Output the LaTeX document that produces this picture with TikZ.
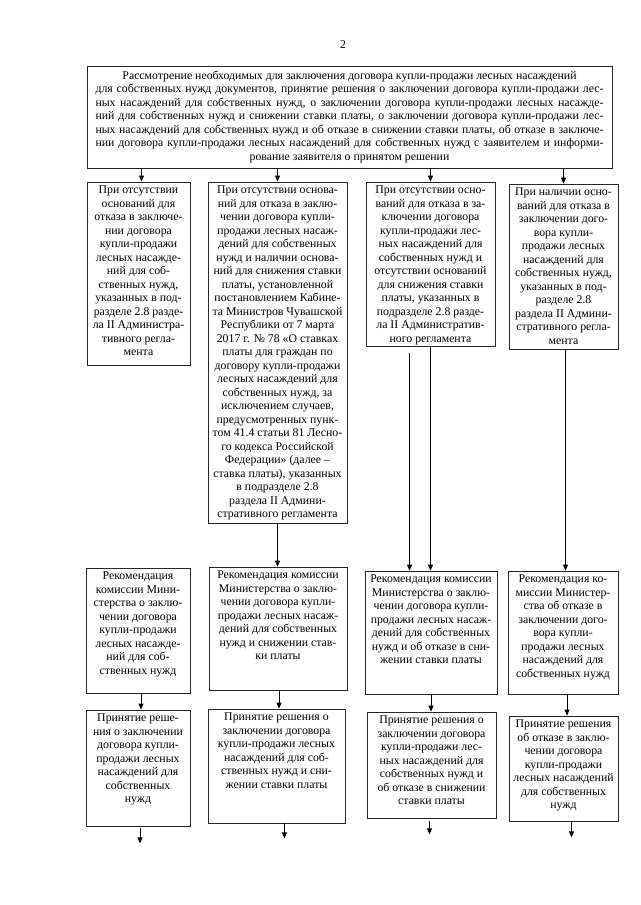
\documentclass[tikz,border=0pt]{standalone}
\usepackage{fontspec}
\setmainfont{Liberation Serif}
\usetikzlibrary{arrows.meta,fit,calc}
\newlength\topw
\setlength\topw{508pt}
\newcommand{\flowbox}[6]{%
  \coordinate (#1-nw) at (#2,#3);
  \coordinate (#1-se) at (#4,#5);
  \node[bx,fit=(#1-nw)(#1-se)] (#1) {};
  \node[tx,anchor=north] (#1-t) at ([yshift=-4pt]#1.north) {#6};}
\begin{document}
\begin{tikzpicture}[x=1pt,y=-1pt,
  bx/.style={draw=black!85,line width=0.8pt,inner sep=0pt},
  tx/.style={font=\fontsize{11.8}{13.5}\selectfont,align=center,inner sep=0pt},
  arr/.style={line width=0.8pt,-{Triangle[length=6pt,width=5pt]}}]
\useasboundingbox[fill=white] (0,0) rectangle (640,905);

\node[tx] (pnum) at (343,45) {2};

% top box
\coordinate (top-nw) at (87,66);
\coordinate (top-se) at (612,168);
\node[bx,fit=(top-nw)(top-se)] (top) {};
\node[tx] (top-t) at (top.center) {Рассмотрение необходимых для заключения договора купли-продажи лесных насаждений\\
\makebox[\topw][s]{для собственных нужд документов, принятие решения о заключении договора купли-продажи лес-}\\
\makebox[\topw][s]{ных насаждений для собственных нужд, о заключении договора купли-продажи лесных насажде-}\\
\makebox[\topw][s]{ний для собственных нужд и снижении ставки платы, о заключении договора купли-продажи лес-}\\
\makebox[\topw][s]{ных насаждений для собственных нужд и об отказе в снижении ставки платы, об отказе в заключе-}\\
\makebox[\topw][s]{нии договора купли-продажи лесных насаждений для собственных нужд с заявителем и информи-}\\
рование заявителя о принятом решении};

% row 1
\flowbox{A1}{87}{182}{190}{365}{При отсутствии\\оснований для\\отказа в заключе-\\нии договора\\купли-продажи\\лесных насажде-\\ний для соб-\\ственных нужд,\\указанных в под-\\разделе 2.8 разде-\\ла II Администра-\\тивного регла-\\мента}
\flowbox{B1}{208}{182}{347}{523}{При отсутствии основа-\\ний для отказа в заклю-\\чении договора купли-\\продажи лесных насаж-\\дений для собственных\\нужд и наличии основа-\\ний для снижения ставки\\платы, установленной\\постановлением Кабине-\\та Министров Чувашской\\Республики от 7 марта\\2017 г. № 78 «О ставках\\платы для граждан по\\договору купли-продажи\\лесных насаждений для\\собственных нужд, за\\исключением случаев,\\предусмотренных пунк-\\том 41.4 статьи 81 Лесно-\\го кодекса Российской\\Федерации» (далее –\\ставка платы), указанных\\в подразделе 2.8\\раздела II Админи-\\стративного регламента}
\flowbox{C1}{366}{182}{495}{346}{При отсутствии осно-\\ваний для отказа в за-\\ключении договора\\купли-продажи лес-\\ных насаждений для\\собственных нужд и\\отсутствии оснований\\для снижения ставки\\платы, указанных в\\подразделе 2.8 разде-\\ла II Административ-\\ного регламента}
\flowbox{D1}{509}{184}{618}{349}{При наличии осно-\\ваний для отказа в\\заключении дого-\\вора купли-\\продажи лесных\\насаждений для\\собственных нужд,\\указанных в под-\\разделе 2.8\\раздела II Админи-\\стративного регла-\\мента}

% row 2
\flowbox{A2}{86}{568}{190}{693}{Рекомендация\\комиссии Мини-\\стерства о заклю-\\чении договора\\купли-продажи\\лесных насажде-\\ний для соб-\\ственных нужд}
\flowbox{B2}{209}{567}{347}{690}{Рекомендация комиссии\\Министерства о заклю-\\чении договора купли-\\продажи лесных насаж-\\дений для собственных\\нужд и снижении став-\\ки платы}
\flowbox{C2}{365}{571}{497}{694}{Рекомендация комиссии\\Министерства о заклю-\\чении договора купли-\\продажи лесных насаж-\\дений для собственных\\нужд и об отказе в сни-\\жении ставки платы}
\flowbox{D2}{508}{571}{618}{694}{Рекомендация ко-\\миссии Министер-\\ства об отказе в\\заключении дого-\\вора купли-\\продажи лесных\\насаждений для\\собственных нужд}

% row 3
\flowbox{A3}{86}{710}{190}{826}{Принятие реше-\\ния о заключении\\договора купли-\\продажи лесных\\насаждений для\\собственных\\нужд}
\flowbox{B3}{208}{709}{345}{823}{Принятие решения о\\заключении договора\\купли-продажи лесных\\насаждений для соб-\\ственных нужд и сни-\\жении ставки платы}
\flowbox{C3}{367}{712}{496}{818}{Принятие решения о\\заключении договора\\купли-продажи лес-\\ных насаждений для\\собственных нужд и\\об отказе в снижении\\ставки платы}
\flowbox{D3}{509}{716}{618}{821}{Принятие решения\\об отказе в заклю-\\чении договора\\купли-продажи\\лесных насаждений\\для собственных\\нужд}

% arrows from top box
\draw[arr] ($(A1.north |- top.south)+(3,0)$) -- ($(A1.north)+(3,0)$);
\draw[arr] (B1.north |- top.south) -- (B1.north);
\draw[arr] (C1.north |- top.south) -- (C1.north);
\draw[arr] (D1.north |- top.south) -- (D1.north);

% row 1 -> row 2
\draw[arr] (B1.south) -- (B1.south |- B2.north);
\coordinate (cstart) at ($(C1.south)+(-21,7)$);
\draw[arr] (cstart) -- (cstart |- C2.north);
\draw[arr] (C1.south) -- (C1.south |- C2.north);
\draw[arr] ($(D1.south)+(2,0)$) -- ($(D1.south |- D2.north)+(2,0)$);

% row 2 -> row 3
\draw[arr] ($(A2.south)+(3,0)$) -- ($(A2.south |- A3.north)+(3,0)$);
\draw[arr] ($(B2.south)+(1,0)$) -- ($(B2.south |- B3.north)+(1,0)$);
\draw[arr] (C2.south) -- (C2.south |- C3.north);
\draw[arr] ($(D2.south)+(4,0)$) -- ($(D2.south |- D3.north)+(4,0)$);

% free arrows below row 3
\coordinate (A3-end) at ($(A3.south)+(2,17)$);
\coordinate (B3-end) at ($(B3.south)+(8,15)$);
\coordinate (C3-end) at ($(C3.south)+(-2,16)$);
\coordinate (D3-end) at ($(D3.south)+(8,16)$);
\draw[arr] ($(A3.south)+(2,2)$) -- (A3-end);
\draw[arr] ($(B3.south)+(8,0)$) -- (B3-end);
\draw[arr] ($(C3.south)+(-2,3)$) -- (C3-end);
\draw[arr] ($(D3.south)+(8,1)$) -- (D3-end);
\end{tikzpicture}
\end{document}
